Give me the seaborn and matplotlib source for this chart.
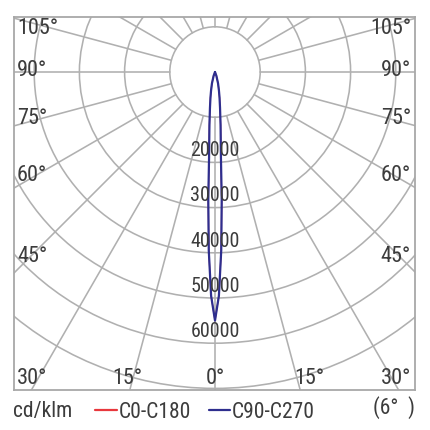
import numpy as np
import pandas as pd
import matplotlib
matplotlib.use("Agg")
import matplotlib.pyplot as plt
from matplotlib.patches import Circle
from matplotlib import font_manager as fm
import seaborn as sns

# ---- data (cd/klm vs gamma angle, half profile, symmetric) ----
gamma_deg = [0, 1, 2, 3, 4, 5, 6, 8, 10, 12, 15, 20, 30]
c0_c180 = [55000, 49500, 39500, 28400, 18800, 14500, 11800, 8000, 5800, 4200, 2600, 900, 0]
c90_c270 = [55000, 49500, 39500, 28400, 18800, 14500, 11800, 8000, 5800, 4200, 2600, 900, 0]
series_names = ["C0-C180", "C90-C270"]
series_colors = ["#e8383d", "#2e2e8e"]

ring_values = [10000, 20000, 30000, 40000, 50000, 60000, 70000]
ring_labels = ["20000", "30000", "40000", "50000", "60000"]
spoke_angles = list(range(0, 360, 15))
side_angle_labels = ["105°", "90°", "75°", "60°", "45°"]
bottom_angle_labels = ["30°", "15°", "0°", "15°", "30°"]
unit_label = "cd/klm"
beam_label = "(6°  )"

# ---- build long table ----
frames = []
for name, vals in zip(series_names, [c0_c180, c90_c270]):
    g = np.array(gamma_deg, dtype=float)
    v = np.array(vals, dtype=float)
    full_g = np.concatenate([-g[::-1], g[1:]])
    full_v = np.concatenate([v[::-1], v[1:]])
    th = np.deg2rad(full_g)
    frames.append(pd.DataFrame({"x": full_v * np.sin(th), "y": -full_v * np.cos(th),
                                "series": name}))
df = pd.concat(frames, ignore_index=True)

sns.set_style("white")

# pick a narrow font if one is installed
avail = {(f.name, f.stretch) for f in fm.fontManager.ttflist}
names = {f.name for f in fm.fontManager.ttflist}
narrow = None
for cand in ["Liberation Sans Narrow", "Roboto Condensed", "Open Sans Condensed",
             "Noto Sans Condensed", "DejaVu Sans Condensed", "Arial Narrow"]:
    if cand in names:
        narrow = cand
        break
stretch = "normal"
if narrow is None and any(n == "DejaVu Sans" and s in ("condensed", "semi-condensed") for n, s in avail):
    narrow = "DejaVu Sans"
    stretch = "condensed"
if narrow is not None:
    fam = [narrow, "DejaVu Sans"]
    fs_ring, fs_ang, fs_leg = 14.5, 16, 15.5
else:
    fam = ["Roboto", "DejaVu Sans"]
    fs_ring, fs_ang, fs_leg = 12.5, 13, 13
plt.rcParams["font.family"] = fam
plt.rcParams["font.stretch"] = stretch

W, H = 430, 430
fig = plt.figure(figsize=(W / 100, H / 100), dpi=100)
L, R, T, B = 14, 415, 17, 390
ax = fig.add_axes([L / W, (H - B) / H, (R - L) / W, (B - T) / H])

cx, cy = 215, 72
upp = 10000 / 45.2  # units per pixel
ax.set_xlim(-(cx - L) * upp, (R - cx) * upp)
ax.set_ylim(-(B - cy) * upp, (cy - T) * upp)

grid_c = "#b0b0b0"
for rv in ring_values:
    ax.add_patch(Circle((0, 0), rv, fill=False, ec=grid_c, lw=1.15, zorder=1))
rmin, rmax = ring_values[0], 120000
for a in spoke_angles:
    t = np.deg2rad(a)
    ax.plot([rmin * np.sin(t), rmax * np.sin(t)], [-rmin * np.cos(t), -rmax * np.cos(t)],
            color=grid_c, lw=1.15, zorder=1)

line_w = [0.9, 1.6]
for name, col, lw in zip(series_names, series_colors, line_w):
    sns.lineplot(data=df[df["series"] == name], x="x", y="y", color=col, label=name,
                 sort=False, estimator=None, lw=lw, ax=ax, zorder=3)
handles, labels = ax.get_legend_handles_labels()
if ax.get_legend() is not None:
    ax.get_legend().remove()

txt_c = "#3c3c3c"
for lab in ring_labels:
    rv = float(lab)
    ax.text(0, -(rv - 2600), lab, ha="center", va="center", fontsize=fs_ring, color=txt_c, zorder=4)

def fx(px):
    return (px - L) / (R - L)

def fy(py):
    return (B - py) / (B - T)

side_y = [29, 71, 118, 176, 257]
for lab, py in zip(side_angle_labels, side_y):
    ax.text(fx(17), fy(py), lab, transform=ax.transAxes, ha="left", va="center", fontsize=fs_ang, color=txt_c)
    ax.text(fx(411), fy(py), lab, transform=ax.transAxes, ha="right", va="center", fontsize=fs_ang, color=txt_c)

bottom_x = [17, 127, 215, 309, 411]
bottom_ha = ["left", "center", "center", "center", "right"]
for lab, px, ha in zip(bottom_angle_labels, bottom_x, bottom_ha):
    ax.text(fx(px), fy(378), lab, transform=ax.transAxes, ha=ha, va="center", fontsize=fs_ang, color=txt_c)

for s in ax.spines.values():
    s.set_color("#a8a8a8")
    s.set_linewidth(1.3)
ax.set_xticks([])
ax.set_yticks([])
ax.set_xlabel("")
ax.set_ylabel("")

fig.text(13 / W, (H - 412) / H, unit_label, ha="left", va="center", fontsize=fs_leg, color=txt_c)
fig.text(415 / W, (H - 408) / H, beam_label, ha="right", va="center", fontsize=fs_leg, color=txt_c)
leg = fig.legend(handles, labels, loc="center left", bbox_to_anchor=(95 / W, (H - 412) / H),
                 ncol=2, frameon=False, handlelength=1.0, handletextpad=0.08, columnspacing=0.85,
                 fontsize=fs_leg, borderpad=0, borderaxespad=0, labelcolor=txt_c)
for h in leg.legend_handles:
    h.set_linewidth(1.6)

fig.savefig("out.png", dpi=100, facecolor="white")
